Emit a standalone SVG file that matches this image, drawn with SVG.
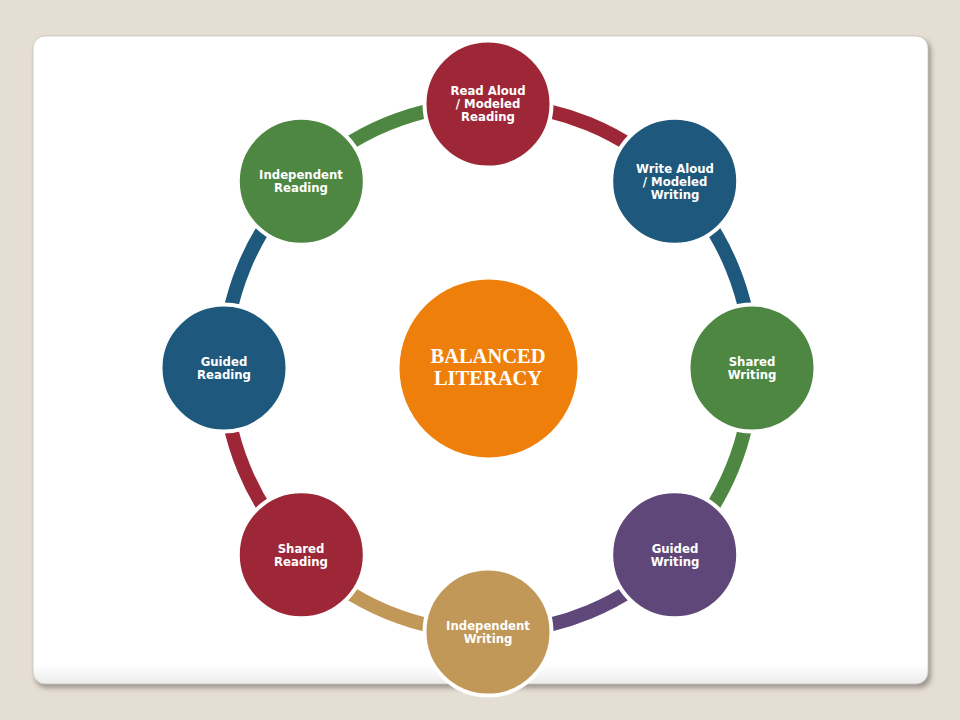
<svg xmlns="http://www.w3.org/2000/svg" width="960" height="720" viewBox="0 0 960 720">
  <defs>
    <filter id="shadow" x="-5%" y="-5%" width="110%" height="110%">
      <feGaussianBlur stdDeviation="2.5"/>
    </filter>
    <linearGradient id="panelGrad" x1="0" y1="0" x2="0" y2="1">
      <stop offset="0" stop-color="#ffffff"/>
      <stop offset="0.97" stop-color="#ffffff"/>
      <stop offset="1" stop-color="#ecebeb"/>
    </linearGradient>
  </defs>
  <style>
    .arc { fill: none; stroke-width: 14; stroke-linecap: butt; }
    .node { stroke: #ffffff; stroke-width: 4; }
    .lbl { font-family: "DejaVu Sans", Verdana, sans-serif; font-weight: bold; font-size: 11.7px; fill: #ffffff; text-anchor: middle; }
    .ctr { font-family: "Liberation Serif", "Times New Roman", serif; font-weight: bold; font-size: 20.5px; fill: #ffffff; text-anchor: middle; }
    .red { fill: #9e2737; }
    .blue { fill: #1e587c; }
    .green { fill: #4e8742; }
    .purple { fill: #5f4879; }
    .tan { fill: #c19858; }
  </style>

  <rect x="0" y="0" width="960" height="720" fill="#e5ded4"/>

  <!-- panel -->
  <rect x="35" y="39" width="896" height="649" rx="12" fill="#9b968f" filter="url(#shadow)"/>
  <rect x="33" y="36" width="895" height="648" rx="12" fill="url(#panelGrad)" stroke="#c9c5bf" stroke-width="0.8"/>

  <!-- connectors -->
  <g id="connectors">
    <path class="arc" stroke="#9e2737" d="M 488 104 A 264 264 0 0 1 674.7 181.3"/>
    <path class="arc" stroke="#1e587c" d="M 674.7 181.3 A 264 264 0 0 1 752 368"/>
    <path class="arc" stroke="#4e8742" d="M 752 368 A 264 264 0 0 1 674.7 554.7"/>
    <path class="arc" stroke="#5f4879" d="M 674.7 554.7 A 264 264 0 0 1 488 632"/>
    <path class="arc" stroke="#c19858" d="M 488 632 A 264 264 0 0 1 301.3 554.7"/>
    <path class="arc" stroke="#9e2737" d="M 301.3 554.7 A 264 264 0 0 1 224 368"/>
    <path class="arc" stroke="#1e587c" d="M 224 368 A 264 264 0 0 1 301.3 181.3"/>
    <path class="arc" stroke="#4e8742" d="M 301.3 181.3 A 264 264 0 0 1 488 104"/>
  </g>

  <g id="center">
    <circle cx="488.5" cy="368.5" r="89" fill="#ef7f0b"/>
    <text class="ctr" x="488" y="362.5">BALANCED</text>
    <text class="ctr" x="488" y="384.5">LITERACY</text>
  </g>

  <g id="read-aloud">
    <circle class="node red" cx="488" cy="104" r="63.5"/>
    <text class="lbl" x="488" y="95">Read Aloud</text>
    <text class="lbl" x="488" y="108">/ Modeled</text>
    <text class="lbl" x="488" y="121">Reading</text>
  </g>

  <g id="write-aloud">
    <circle class="node blue" cx="674.7" cy="181.3" r="63.5"/>
    <text class="lbl" x="675" y="172.5">Write Aloud</text>
    <text class="lbl" x="675" y="185.5">/ Modeled</text>
    <text class="lbl" x="675" y="198.5">Writing</text>
  </g>

  <g id="shared-writing">
    <circle class="node green" cx="752" cy="368" r="63.5"/>
    <text class="lbl" x="752" y="366">Shared</text>
    <text class="lbl" x="752" y="379">Writing</text>
  </g>

  <g id="guided-writing">
    <circle class="node purple" cx="674.7" cy="554.7" r="63.5"/>
    <text class="lbl" x="675" y="553">Guided</text>
    <text class="lbl" x="675" y="566">Writing</text>
  </g>

  <g id="independent-writing">
    <circle class="node tan" cx="488" cy="632" r="63.5"/>
    <text class="lbl" x="488" y="630">Independent</text>
    <text class="lbl" x="488" y="643">Writing</text>
  </g>

  <g id="shared-reading">
    <circle class="node red" cx="301.3" cy="554.7" r="63.5"/>
    <text class="lbl" x="301" y="553">Shared</text>
    <text class="lbl" x="301" y="566">Reading</text>
  </g>

  <g id="guided-reading">
    <circle class="node blue" cx="224" cy="368" r="63.5"/>
    <text class="lbl" x="224" y="366">Guided</text>
    <text class="lbl" x="224" y="379">Reading</text>
  </g>

  <g id="independent-reading">
    <circle class="node green" cx="301.3" cy="181.3" r="63.5"/>
    <text class="lbl" x="301" y="179">Independent</text>
    <text class="lbl" x="301" y="192">Reading</text>
  </g>
</svg>
